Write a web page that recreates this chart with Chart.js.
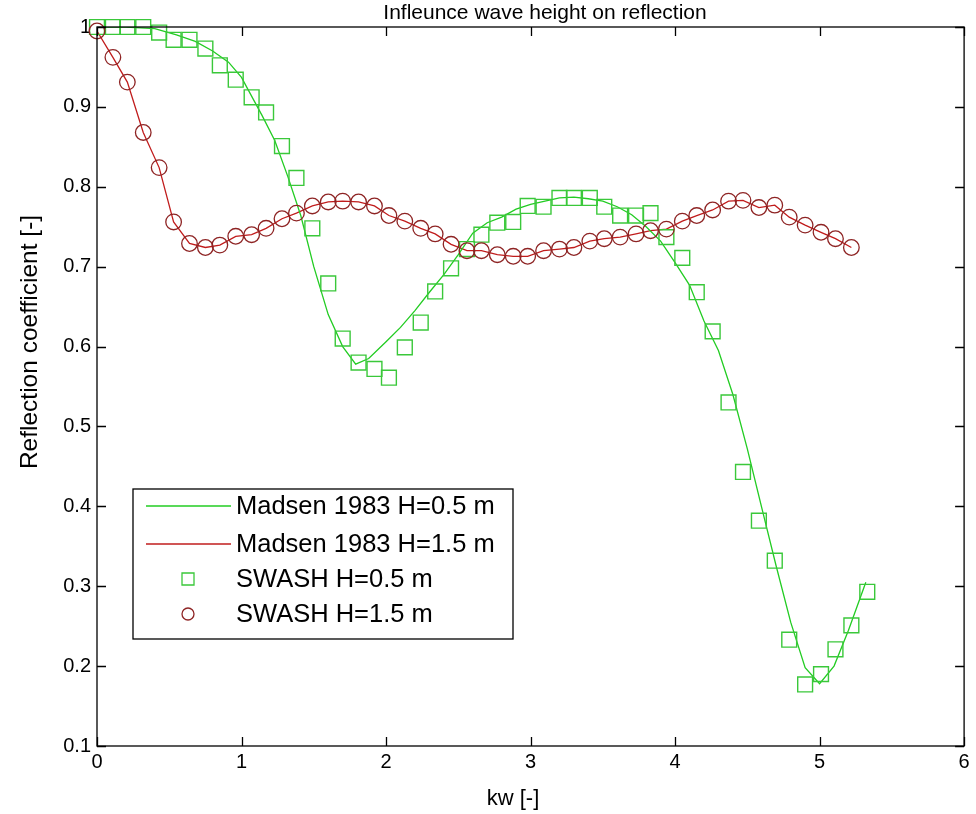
<!DOCTYPE html>
<html><head><meta charset="utf-8">
<script src="https://cdn.jsdelivr.net/npm/chart.js@4.4.1/dist/chart.umd.min.js"></script>
<style>html,body{margin:0;padding:0;background:#fff}#wrap{width:976px;height:814px}</style>
</head><body><div id="wrap"><canvas id="c" width="976" height="814"></canvas></div>
<script>
const chartTitle = 'Infleunce wave height on reflection';
const xAxisTitle = 'kw [-]';
const yAxisTitle = 'Reflection coefficient [-]';
const xTickLabels = ['0','1','2','3','4','5','6'];
const yTickLabels = ['0.1','0.2','0.3','0.4','0.5','0.6','0.7','0.8','0.9','1'];
const seriesNames = ['Madsen 1983 H=0.5 m','Madsen 1983 H=1.5 m','SWASH H=0.5 m','SWASH H=1.5 m'];

const madsen05Kw = [0,0.2,0.4,0.55,0.68,0.8,0.91,1.0,1.05,1.14,1.23,1.32,1.41,1.5,1.6,1.7,1.79,1.88,2.0,2.1,2.2,2.3,2.4,2.5,2.6,2.7,2.8,2.9,3.0,3.1,3.2,3.3,3.4,3.5,3.6,3.7,3.8,3.9,4.0,4.1,4.2,4.3,4.4,4.5,4.6,4.7,4.8,4.9,5.0,5.1,5.2,5.32];
const madsen05R  = [1.0,1.0,0.998,0.99,0.982,0.97,0.956,0.937,0.92,0.89,0.858,0.813,0.764,0.70,0.64,0.60,0.578,0.585,0.606,0.624,0.645,0.668,0.69,0.715,0.742,0.755,0.762,0.772,0.778,0.782,0.786,0.787,0.785,0.782,0.775,0.765,0.75,0.732,0.705,0.677,0.632,0.595,0.54,0.472,0.398,0.325,0.255,0.198,0.178,0.2,0.245,0.305];

const swash05Kw = [0,0.11,0.21,0.32,0.43,0.53,0.64,0.75,0.85,0.96,1.07,1.17,1.28,1.38,1.49,1.60,1.70,1.81,1.92,2.02,2.13,2.24,2.34,2.45,2.56,2.66,2.77,2.88,2.98,3.09,3.20,3.30,3.41,3.51,3.62,3.73,3.83,3.94,4.05,4.15,4.26,4.37,4.47,4.58,4.69,4.79,4.90,5.01,5.11,5.22,5.33];
const swash05R  = [1.0,1.0,1.0,1.0,0.993,0.984,0.984,0.973,0.952,0.934,0.912,0.893,0.851,0.811,0.748,0.679,0.61,0.58,0.572,0.561,0.599,0.630,0.669,0.698,0.722,0.740,0.755,0.756,0.776,0.775,0.786,0.786,0.786,0.775,0.764,0.764,0.767,0.737,0.711,0.668,0.619,0.53,0.443,0.382,0.332,0.233,0.177,0.19,0.221,0.251,0.293];

const swash15Kw = [0,0.11,0.21,0.32,0.43,0.53,0.64,0.75,0.85,0.96,1.07,1.17,1.28,1.38,1.49,1.60,1.70,1.81,1.92,2.02,2.13,2.24,2.34,2.45,2.56,2.66,2.77,2.88,2.98,3.09,3.20,3.30,3.41,3.51,3.62,3.73,3.83,3.94,4.05,4.15,4.26,4.37,4.47,4.58,4.69,4.79,4.90,5.01,5.11,5.22];
const swash15R  = [0.995,0.962,0.931,0.868,0.824,0.756,0.729,0.724,0.727,0.738,0.740,0.748,0.760,0.767,0.776,0.781,0.782,0.781,0.776,0.764,0.757,0.748,0.741,0.728,0.720,0.720,0.715,0.713,0.713,0.720,0.722,0.724,0.732,0.735,0.737,0.741,0.745,0.747,0.757,0.764,0.771,0.782,0.783,0.774,0.777,0.762,0.752,0.743,0.735,0.724];

const madsen15Kw = [0,0.11,0.21,0.32,0.43,0.53,0.64,0.75,0.85,0.96,1.07,1.17,1.28,1.38,1.49,1.60,1.70,1.81,1.92,2.02,2.13,2.24,2.34,2.45,2.56,2.66,2.77,2.88,2.98,3.09,3.20,3.30,3.41,3.51,3.62,3.73,3.83,3.94,4.05,4.15,4.26,4.37,4.47,4.58,4.69,4.79,4.90,5.01,5.11,5.22];
const madsen15R  = [0.995,0.962,0.931,0.868,0.824,0.756,0.729,0.724,0.727,0.738,0.740,0.748,0.760,0.767,0.776,0.781,0.782,0.781,0.776,0.764,0.757,0.748,0.741,0.728,0.720,0.720,0.715,0.713,0.713,0.720,0.722,0.724,0.732,0.735,0.737,0.741,0.745,0.747,0.757,0.764,0.771,0.782,0.783,0.774,0.777,0.762,0.752,0.743,0.735,0.724];

const FONT = "'Liberation Sans', Arial, Helvetica, sans-serif";
const GREEN_LINE = '#22cc22', RED_LINE = '#c01c1c', GREEN_MK = '#3ac83a', RED_MK = '#8e2424';

const pts = (xs, ys) => xs.map((x, i) => ({x, y: ys[i]}));

const frameTicks = {
  id: 'frameTicks',
  afterDatasetsDraw(chart) {
    const {ctx, chartArea: a, scales: {x, y}} = chart;
    ctx.save();
    ctx.strokeStyle = '#000';
    ctx.lineWidth = 1.3;
    ctx.strokeRect(a.left, a.top, a.right - a.left, a.bottom - a.top);
    const L = 9;
    ctx.beginPath();
    x.ticks.forEach(t => {
      const px = Math.round(x.getPixelForValue(t.value)) + 0.5;
      ctx.moveTo(px, a.bottom); ctx.lineTo(px, a.bottom - L);
      ctx.moveTo(px, a.top); ctx.lineTo(px, a.top + L);
    });
    y.ticks.forEach(t => {
      const py = Math.round(y.getPixelForValue(t.value)) + 0.5;
      ctx.moveTo(a.left, py); ctx.lineTo(a.left + L, py);
      ctx.moveTo(a.right, py); ctx.lineTo(a.right - L, py);
    });
    ctx.stroke();
    ctx.restore();
  }
};

const textLabels = {
  id: 'textLabels',
  afterDraw(chart) {
    const {ctx} = chart;
    ctx.save();
    ctx.fillStyle = '#000';
    ctx.textAlign = 'center';
    ctx.textBaseline = 'middle';
    ctx.font = '21px ' + FONT;
    ctx.fillText(chartTitle, 545, 13);
    ctx.font = '22px ' + FONT;
    ctx.fillText(xAxisTitle, 513, 799);
    ctx.translate(30, 342);
    ctx.rotate(-Math.PI / 2);
    ctx.font = '24.5px ' + FONT;
    ctx.fillText(yAxisTitle, 0, 0);
    ctx.restore();
  }
};

const boxLegend = {
  id: 'boxLegend',
  afterDraw(chart) {
    const {ctx} = chart;
    const ds = chart.data.datasets;
    const bx = 133, by = 489, bw = 380, bh = 150;
    ctx.save();
    ctx.fillStyle = '#fff';
    ctx.fillRect(bx, by, bw, bh);
    ctx.strokeStyle = '#000';
    ctx.lineWidth = 1.3;
    ctx.strokeRect(bx, by, bw, bh);
    const rows = [506, 544, 579, 614];
    ctx.font = '25.5px ' + FONT;
    ctx.textBaseline = 'middle';
    ctx.textAlign = 'left';
    ds.forEach((d, i) => {
      const ry = rows[i];
      if (d.showLine) {
        ctx.strokeStyle = d.borderColor;
        ctx.lineWidth = 1.3;
        ctx.beginPath(); ctx.moveTo(146, ry); ctx.lineTo(231, ry); ctx.stroke();
      } else {
        ctx.strokeStyle = d.pointBorderColor;
        ctx.lineWidth = 1.3;
        ctx.beginPath();
        if (d.pointStyle === 'rect') ctx.rect(182, ry - 6, 12, 12);
        else ctx.arc(188, ry, 6, 0, Math.PI * 2);
        ctx.stroke();
      }
      ctx.fillStyle = '#000';
      ctx.fillText(d.label, 236, ry + 1);
    });
    ctx.restore();
  }
};

new Chart(document.getElementById('c'), {
  type: 'scatter',
  data: {
    datasets: [
      {label: seriesNames[0], data: pts(madsen05Kw, madsen05R), showLine: true, borderColor: GREEN_LINE, borderWidth: 1.3, pointRadius: 0, tension: 0, order: 3},
      {label: seriesNames[1], data: pts(madsen15Kw, madsen15R), showLine: true, borderColor: RED_LINE, borderWidth: 1.3, pointRadius: 0, tension: 0, order: 4},
      {label: seriesNames[2], data: pts(swash05Kw, swash05R), showLine: false, pointStyle: 'rect', pointRadius: 10.5, pointBorderColor: GREEN_MK, pointBackgroundColor: 'rgba(0,0,0,0)', pointBorderWidth: 1.4, clip: false, order: 2},
      {label: seriesNames[3], data: pts(swash15Kw, swash15R), showLine: false, pointStyle: 'circle', pointRadius: 7.8, pointBorderColor: RED_MK, pointBackgroundColor: 'rgba(0,0,0,0)', pointBorderWidth: 1.3, clip: false, order: 1}
    ]
  },
  options: {
    responsive: false,
    animation: false,
    devicePixelRatio: 1,
    layout: {padding: {left: 0, right: 11, top: 27, bottom: 0}},
    plugins: {
      legend: {display: false},
      tooltip: {enabled: false},
      title: {display: false}
    },
    scales: {
      x: {
        type: 'linear', min: 0, max: 6,
        afterBuildTicks: s => { s.ticks = xTickLabels.map(v => ({value: parseFloat(v)})); },
        afterFit: s => { s.height = 68; },
        grid: {display: false, drawTicks: false},
        border: {display: false},
        ticks: {color: '#000', font: {family: FONT, size: 20}, padding: 4, maxRotation: 0, callback: (v, i) => xTickLabels[i]},
        title: {display: false}
      },
      y: {
        type: 'linear', min: 0.1, max: 1,
        afterBuildTicks: s => { s.ticks = yTickLabels.map(v => ({value: parseFloat(v)})); },
        afterFit: s => { s.width = 97; },
        grid: {display: false, drawTicks: false},
        border: {display: false},
        ticks: {color: '#000', font: {family: FONT, size: 20}, padding: 6, callback: (v, i) => yTickLabels[i]},
        title: {display: false}
      }
    }
  },
  plugins: [frameTicks, textLabels, boxLegend]
});
</script>
</body></html>
